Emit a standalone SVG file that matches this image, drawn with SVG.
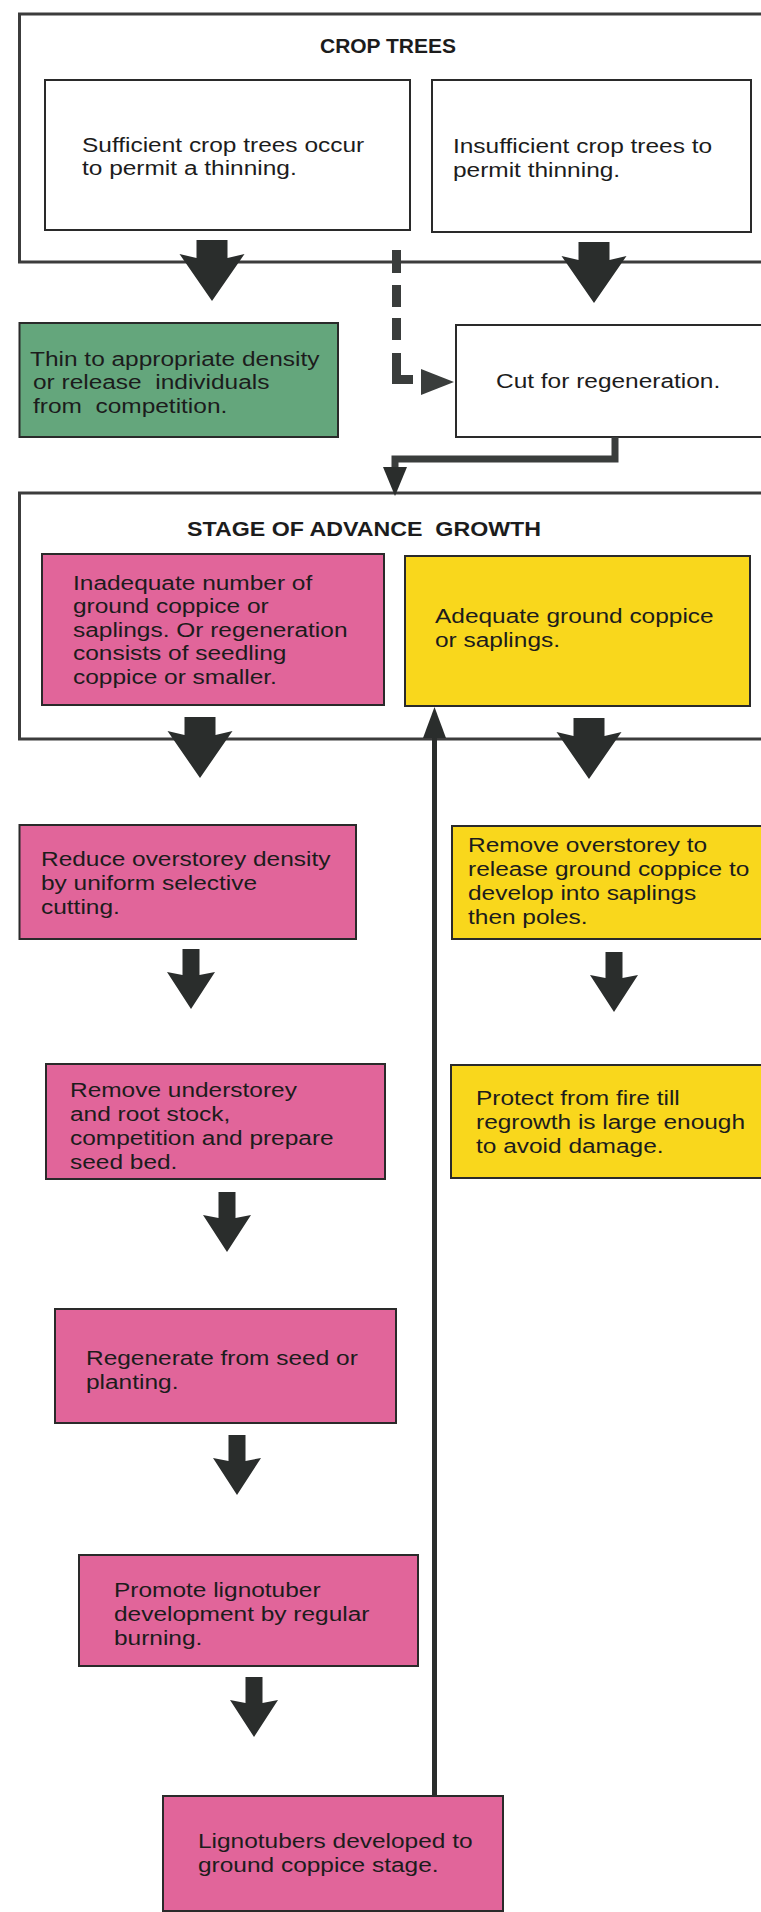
<svg xmlns="http://www.w3.org/2000/svg" width="761" height="1912" viewBox="0 0 761 1912">
<style>
  .frame{fill:none;stroke:#3c3c3c;stroke-width:3}
  .box{stroke:#2a2a2a;stroke-width:2}
  .white{fill:#ffffff}
  .pink{fill:#e1659a}
  .yellow{fill:#f9d71c}
  .green{fill:#64a67c}
  .t{font-family:"Liberation Sans",Arial,sans-serif;font-size:21px;fill:#1c1c1c;transform-box:fill-box;transform-origin:0 0;transform:scaleX(1.165)}
  .h{font-family:"Liberation Sans",Arial,sans-serif;font-size:21px;font-weight:bold;fill:#1c1c1c;text-anchor:middle}
  .arrow{fill:#2a2d2c}
</style>
<defs>
  <path id="bigArrow" d="M-15.5 0 H15.5 V18 L32.5 14 L0 61 L-32.5 14 L-15.5 18 Z"/>
  <path id="smallArrow" d="M-8.5 0 H8.5 V26 L24 23 L0 60 L-24 23 L-8.5 26 Z"/>
</defs>
<rect width="761" height="1912" fill="#ffffff"/>

<g id="crop-trees">
  <path class="frame" d="M763 14 H19.5 V262 H763"/>
  <text class="h" x="388" y="53" textLength="136" lengthAdjust="spacingAndGlyphs">CROP TREES</text>
</g>
<g id="sufficient">
  <rect class="box white" x="45" y="80" width="365" height="150"/>
  <text class="t" x="82" y="152">Sufficient crop trees occur</text>
  <text class="t" x="82" y="175">to permit a thinning.</text>
</g>
<g id="insufficient">
  <rect class="box white" x="432" y="80" width="319" height="152"/>
  <text class="t" x="453" y="153">Insufficient crop trees to</text>
  <text class="t" x="453" y="177">permit thinning.</text>
</g>
<g id="thin">
  <rect class="box green" x="19.5" y="323" width="318.5" height="114"/>
  <text class="t" x="30" y="366" xml:space="preserve">Thin to appropriate density</text>
  <text class="t" x="33" y="389" xml:space="preserve">or release  individuals</text>
  <text class="t" x="33" y="413" xml:space="preserve">from  competition.</text>
</g>
<g id="cut">
  <path class="box white" d="M764 325 H456 V437 H764"/>
  <text class="t" x="496" y="388">Cut for regeneration.</text>
</g>

<g id="stage">
  <path class="frame" d="M763 493 H19.5 V739 H763"/>
  <text class="h" x="364" y="536" textLength="354" lengthAdjust="spacingAndGlyphs" xml:space="preserve">STAGE OF ADVANCE  GROWTH</text>
</g>
<g id="inadequate">
  <rect class="box pink" x="42" y="554" width="342" height="151"/>
  <text class="t" x="73" y="590">Inadequate number of</text>
  <text class="t" x="73" y="613">ground coppice or</text>
  <text class="t" x="73" y="637">saplings. Or regeneration</text>
  <text class="t" x="73" y="660">consists of seedling</text>
  <text class="t" x="73" y="684">coppice or smaller.</text>
</g>
<g id="adequate">
  <rect class="box yellow" x="405" y="556" width="345" height="150"/>
  <text class="t" x="435" y="623">Adequate ground coppice</text>
  <text class="t" x="435" y="647">or saplings.</text>
</g>

<g id="reduce">
  <rect class="box pink" x="19.5" y="825" width="336.5" height="114"/>
  <text class="t" x="41" y="866">Reduce overstorey density</text>
  <text class="t" x="41" y="890">by uniform selective</text>
  <text class="t" x="41" y="914">cutting.</text>
</g>
<g id="remove-overstorey">
  <path class="box yellow" d="M764 826 H452 V939 H764"/>
  <text class="t" x="468" y="852">Remove overstorey to</text>
  <text class="t" x="468" y="876">release ground coppice to</text>
  <text class="t" x="468" y="900">develop into saplings</text>
  <text class="t" x="468" y="924">then poles.</text>
</g>
<g id="remove-understorey">
  <rect class="box pink" x="46" y="1064" width="339" height="115"/>
  <text class="t" x="70" y="1097">Remove understorey</text>
  <text class="t" x="70" y="1121">and root stock,</text>
  <text class="t" x="70" y="1145">competition and prepare</text>
  <text class="t" x="70" y="1169">seed bed.</text>
</g>
<g id="protect">
  <path class="box yellow" d="M764 1065 H451 V1178 H764"/>
  <text class="t" x="476" y="1105">Protect from fire till</text>
  <text class="t" x="476" y="1129">regrowth is large enough</text>
  <text class="t" x="476" y="1153">to avoid damage.</text>
</g>
<g id="regenerate">
  <rect class="box pink" x="55" y="1309" width="341" height="114"/>
  <text class="t" x="86" y="1365">Regenerate from seed or</text>
  <text class="t" x="86" y="1389">planting.</text>
</g>
<g id="promote">
  <rect class="box pink" x="79" y="1555" width="339" height="111"/>
  <text class="t" x="114" y="1597">Promote lignotuber</text>
  <text class="t" x="114" y="1621">development by regular</text>
  <text class="t" x="114" y="1645">burning.</text>
</g>
<g id="lignotubers">
  <rect class="box pink" x="163" y="1796" width="340" height="115"/>
  <text class="t" x="198" y="1848">Lignotubers developed to</text>
  <text class="t" x="198" y="1872">ground coppice stage.</text>
</g>

<g id="connectors">
  <use href="#bigArrow" class="arrow" x="212" y="240"/>
  <use href="#bigArrow" class="arrow" x="594" y="242"/>
  <g fill="#3a3d3c">
    <rect x="392" y="250" width="9" height="23"/>
    <rect x="392" y="285" width="9" height="22"/>
    <rect x="392" y="318" width="9" height="22"/>
    <path d="M392 353 H401 V375 H413 V384 H392 Z"/>
    <path d="M421 369 L454 382 L421 395 Z"/>
  </g>
  <path d="M615 437 V459 H395 V468" fill="none" stroke="#3a3d3c" stroke-width="7"/>
  <path class="arrow" d="M383 467 H407 L395 496 Z"/>
  <use href="#bigArrow" class="arrow" x="200" y="717"/>
  <use href="#bigArrow" class="arrow" x="589" y="718"/>
  <line x1="434.5" y1="1796" x2="434.5" y2="735" stroke="#2a2d2c" stroke-width="5"/>
  <path class="arrow" d="M423 738 H446 L434.5 707 Z"/>
  <use href="#smallArrow" class="arrow" x="191" y="949"/>
  <use href="#smallArrow" class="arrow" x="614" y="952"/>
  <use href="#smallArrow" class="arrow" x="227" y="1192"/>
  <use href="#smallArrow" class="arrow" x="237" y="1435"/>
  <use href="#smallArrow" class="arrow" x="254" y="1677"/>
</g>
</svg>
